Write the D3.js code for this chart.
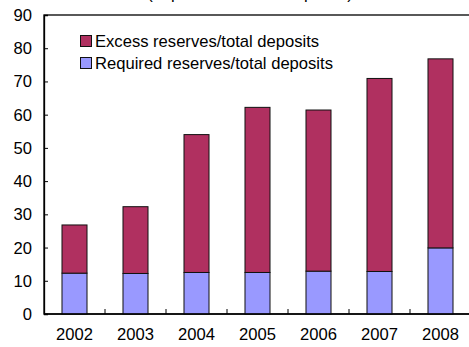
<!DOCTYPE html>
<html><head><meta charset="utf-8">
<script src="https://cdn.jsdelivr.net/npm/d3@7"></script>
<style>body{margin:0;background:#fff}svg{display:block}text{font-family:Arial,"Liberation Sans",sans-serif}</style>
</head><body><svg id="c" width="469" height="347"></svg>
<script>
const years = ["2002","2003","2004","2005","2006","2007","2008"];
const required = [12.3, 12.2, 12.5, 12.5, 12.9, 12.8, 19.9];
const total = [26.8, 32.3, 54.0, 62.2, 61.4, 70.9, 76.8];
const excess = total.map((t,i)=>+(t-required[i]).toFixed(1));
const yTicks = [0,10,20,30,40,50,60,70,80,90];
const seriesNames = ["Excess reserves/total deposits","Required reserves/total deposits"];
const colors = {excess:"#B03060", required:"#9999FF"};

const svg = d3.select("#c");
const L=44, R=471, T=15, B=314;
const FS = 16.6;
const x = d3.scaleBand().domain(years).range([L,R]).paddingInner(0.59).paddingOuter(0.295);
const xb = d3.scaleBand().domain(years).range([L,R]);
const y = d3.scaleLinear().domain([0,90]).range([B,T]);

// title, clipped above the view as in the reference
svg.append("text").attr("x",250).attr("y",-1).attr("text-anchor","middle").attr("font-size",FS)
  .text("(In percent of total deposits)");

// frame
svg.append("rect").attr("x",L).attr("y",T).attr("width",R-L).attr("height",B-T)
  .attr("fill","none").attr("stroke","#000").attr("stroke-width",1.3);

const rows = years.map((yr,i)=>({yr, req:required[i], exc:excess[i]}));
const stack = d3.stack().keys(["req","exc"])(rows);
const fills = [colors.required, colors.excess];
stack.forEach((layer,k)=>{
  svg.append("g").selectAll("rect").data(layer).join("rect")
    .attr("x",d=>x(d.data.yr)).attr("width",x.bandwidth())
    .attr("y",d=>y(d[1])).attr("height",d=>y(d[0])-y(d[1]))
    .attr("fill",fills[k]).attr("stroke","#111").attr("stroke-width",1);
});

// y axis
const ya = svg.append("g").attr("transform",`translate(${L},0)`)
  .call(d3.axisRight(y).tickValues(yTicks).tickSize(4).tickFormat(""));
ya.select(".domain").attr("stroke","#000").attr("stroke-width",1.3);
svg.append("g").selectAll("text").data(yTicks).join("text")
  .attr("x",32).attr("y",d=>y(d)+6).attr("text-anchor","end").attr("font-size",FS).text(d=>d);

// x axis ticks (boundaries)
const bounds = years.slice(1).map(v=>xb(v));
svg.append("g").selectAll("line").data(bounds).join("line")
  .attr("x1",d=>d).attr("x2",d=>d).attr("y1",B).attr("y2",B-5).attr("stroke","#000");
svg.append("line").attr("x1",L).attr("x2",R).attr("y1",B).attr("y2",B).attr("stroke","#000").attr("stroke-width",1.3);
svg.append("g").selectAll("text").data(years).join("text")
  .attr("x",d=>xb(d)+xb.bandwidth()/2).attr("y",340).attr("text-anchor","middle").attr("font-size",FS).text(d=>d);

// legend
const lg = svg.append("g");
const lgColors=[colors.excess, colors.required];
seriesNames.forEach((n,i)=>{
  lg.append("rect").attr("x",80.5).attr("y",35.5+i*22).attr("width",11).attr("height",11)
    .attr("fill",lgColors[i]).attr("stroke","#111").attr("stroke-width",1);
  lg.append("text").attr("x",95).attr("y",46.5+i*22).attr("font-size",FS).text(n);
});
</script></body></html>
